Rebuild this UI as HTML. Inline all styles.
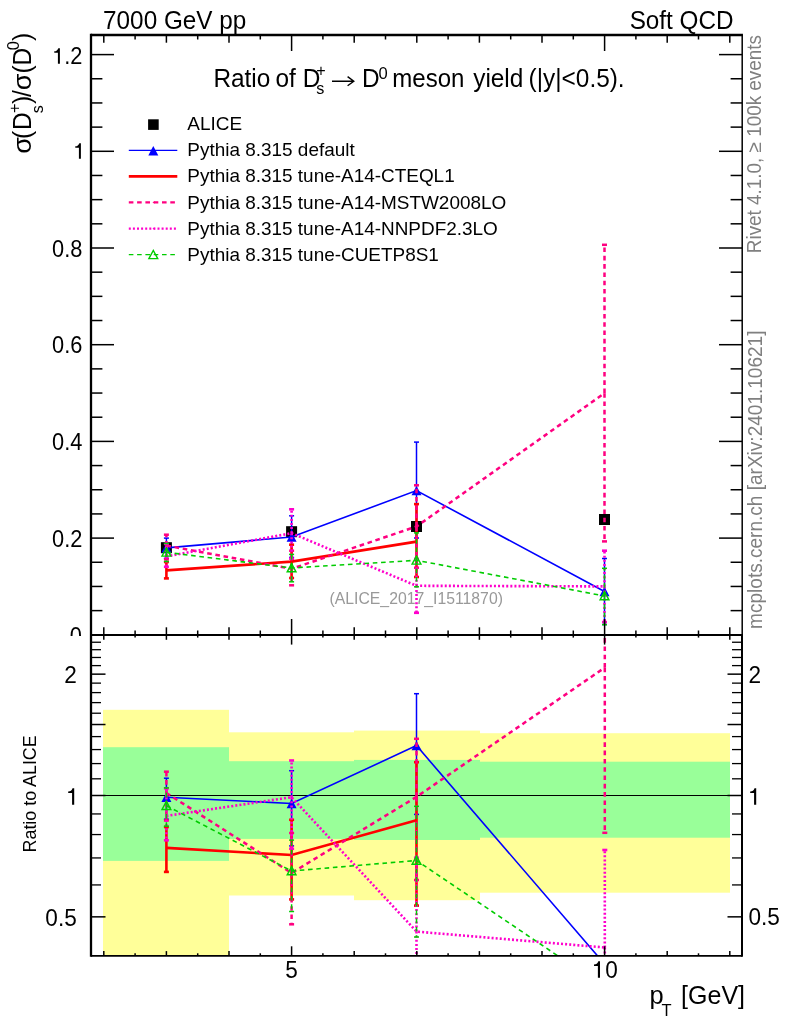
<!DOCTYPE html>
<html><head><meta charset="utf-8"><title>plot</title>
<style>
html,body{margin:0;padding:0;background:#fff;}
body{width:786px;height:1024px;overflow:hidden;position:relative;font-family:"Liberation Sans",sans-serif;}
</style></head><body>
<svg width="786" height="1024" viewBox="0 0 786 1024" style="display:block;position:absolute;left:0;top:0;will-change:transform" font-family="'Liberation Sans', sans-serif">
<defs>
<clipPath id="cm"><rect x="91.0" y="35.0" width="651.0" height="600.0"/></clipPath>
<clipPath id="cr"><rect x="91.0" y="635.0" width="651.0" height="320.9"/></clipPath>
<clipPath id="c0"><rect x="0" y="0" width="91.0" height="635.9"/></clipPath>
</defs>
<rect x="0" y="0" width="786" height="1024" fill="#ffffff"/>
<rect x="103.0" y="709.8" width="126.00" height="245.70" fill="#ffff99"/>
<rect x="229.0" y="732.3" width="125.00" height="163.20" fill="#ffff99"/>
<rect x="354.0" y="730.6" width="126.00" height="169.60" fill="#ffff99"/>
<rect x="480.0" y="733.2" width="250.00" height="159.50" fill="#ffff99"/>
<rect x="103.0" y="747.2" width="126.00" height="113.70" fill="#99ff99"/>
<rect x="229.0" y="761.2" width="125.00" height="77.70" fill="#99ff99"/>
<rect x="354.0" y="759.9" width="126.00" height="80.10" fill="#99ff99"/>
<rect x="480.0" y="761.7" width="250.00" height="76.00" fill="#99ff99"/>
<text transform="translate(416.2,604.3) scale(1,1.045)" font-size="15.8" text-anchor="middle" fill="#999999">(ALICE_2017_I1511870)</text>
<g clip-path="url(#cm)">
<rect x="160.90" y="542.20" width="11.0" height="11.0" fill="#000"/>
<rect x="286.10" y="526.20" width="11.0" height="11.0" fill="#000"/>
<rect x="411.00" y="521.00" width="11.0" height="11.0" fill="#000"/>
<rect x="599.00" y="514.00" width="11.0" height="11.0" fill="#000"/>
<polyline points="166.40,547.90 291.60,537.00 416.50,490.60 604.50,591.50" fill="none" stroke="#0000ff" stroke-width="1.6" stroke-linejoin="miter"/>
<g stroke="#0000ff" stroke-width="1.5" fill="none"><line x1="166.40" y1="538.10" x2="166.40" y2="558.30"/><line x1="163.90" y1="538.10" x2="168.90" y2="538.10"/><line x1="163.90" y1="558.30" x2="168.90" y2="558.30"/></g>
<g stroke="#0000ff" stroke-width="1.5" fill="none"><line x1="291.60" y1="515.80" x2="291.60" y2="557.40"/><line x1="289.10" y1="515.80" x2="294.10" y2="515.80"/><line x1="289.10" y1="557.40" x2="294.10" y2="557.40"/></g>
<g stroke="#0000ff" stroke-width="1.5" fill="none"><line x1="416.50" y1="442.10" x2="416.50" y2="538.00"/><line x1="414.00" y1="442.10" x2="419.00" y2="442.10"/><line x1="414.00" y1="538.00" x2="419.00" y2="538.00"/></g>
<g stroke="#0000ff" stroke-width="1.5" fill="none"><line x1="604.50" y1="558.50" x2="604.50" y2="624.50"/><line x1="602.00" y1="558.50" x2="607.00" y2="558.50"/><line x1="602.00" y1="624.50" x2="607.00" y2="624.50"/></g>
<polygon points="161.40,552.60 171.40,552.60 166.40,543.20" fill="#0000ff"/>
<polygon points="286.60,541.70 296.60,541.70 291.60,532.30" fill="#0000ff"/>
<polygon points="411.50,495.30 421.50,495.30 416.50,485.90" fill="#0000ff"/>
<polygon points="599.50,596.20 609.50,596.20 604.50,586.80" fill="#0000ff"/>
<polyline points="166.40,570.40 291.60,561.60 416.50,541.60" fill="none" stroke="#ff0000" stroke-width="2.6" stroke-linejoin="miter"/>
<g stroke="#ff0000" stroke-width="2.6" fill="none"><line x1="166.40" y1="562.00" x2="166.40" y2="578.40"/><line x1="163.90" y1="562.00" x2="168.90" y2="562.00"/><line x1="163.90" y1="578.40" x2="168.90" y2="578.40"/></g>
<g stroke="#ff0000" stroke-width="2.6" fill="none"><line x1="291.60" y1="544.70" x2="291.60" y2="578.00"/><line x1="289.10" y1="544.70" x2="294.10" y2="544.70"/><line x1="289.10" y1="578.00" x2="294.10" y2="578.00"/></g>
<g stroke="#ff0000" stroke-width="2.6" fill="none"><line x1="416.50" y1="504.10" x2="416.50" y2="577.00"/><line x1="414.00" y1="504.10" x2="419.00" y2="504.10"/><line x1="414.00" y1="577.00" x2="419.00" y2="577.00"/></g>
<polyline points="166.40,545.60 291.60,568.80 416.50,526.50 604.50,393.20" fill="none" stroke="#ff0080" stroke-width="2.5" stroke-linejoin="miter" stroke-dasharray="4.6 3.7"/>
<g stroke="#ff0080" stroke-width="2.5" fill="none"><line x1="166.40" y1="545.60" x2="166.40" y2="534.70" stroke-dasharray="4.6 3.7"/><line x1="166.40" y1="545.60" x2="166.40" y2="559.30" stroke-dasharray="4.6 3.7"/><line x1="163.90" y1="534.70" x2="168.90" y2="534.70"/><line x1="163.90" y1="559.30" x2="168.90" y2="559.30"/></g>
<g stroke="#ff0080" stroke-width="2.5" fill="none"><line x1="291.60" y1="568.80" x2="291.60" y2="550.70" stroke-dasharray="4.6 3.7"/><line x1="291.60" y1="568.80" x2="291.60" y2="585.30" stroke-dasharray="4.6 3.7"/><line x1="289.10" y1="550.70" x2="294.10" y2="550.70"/><line x1="289.10" y1="585.30" x2="294.10" y2="585.30"/></g>
<g stroke="#ff0080" stroke-width="2.5" fill="none"><line x1="416.50" y1="526.50" x2="416.50" y2="485.30" stroke-dasharray="4.6 3.7"/><line x1="416.50" y1="526.50" x2="416.50" y2="567.70" stroke-dasharray="4.6 3.7"/><line x1="414.00" y1="485.30" x2="419.00" y2="485.30"/><line x1="414.00" y1="567.70" x2="419.00" y2="567.70"/></g>
<g stroke="#ff0080" stroke-width="2.5" fill="none"><line x1="604.50" y1="393.20" x2="604.50" y2="244.80" stroke-dasharray="4.6 3.7"/><line x1="604.50" y1="393.20" x2="604.50" y2="541.40" stroke-dasharray="4.6 3.7"/><line x1="602.00" y1="244.80" x2="607.00" y2="244.80"/><line x1="602.00" y1="541.40" x2="607.00" y2="541.40"/></g>
<polyline points="166.40,556.40 291.60,533.20 416.50,585.80 604.50,586.40" fill="none" stroke="#ff00cc" stroke-width="2.6" stroke-linejoin="miter" stroke-dasharray="2.0 2.1"/>
<g stroke="#ff00cc" stroke-width="2.6" fill="none"><line x1="166.40" y1="556.40" x2="166.40" y2="544.00" stroke-dasharray="2.0 2.1"/><line x1="166.40" y1="556.40" x2="166.40" y2="566.80" stroke-dasharray="2.0 2.1"/><line x1="163.90" y1="544.00" x2="168.90" y2="544.00"/><line x1="163.90" y1="566.80" x2="168.90" y2="566.80"/></g>
<g stroke="#ff00cc" stroke-width="2.6" fill="none"><line x1="291.60" y1="533.20" x2="291.60" y2="509.30" stroke-dasharray="2.0 2.1"/><line x1="291.60" y1="533.20" x2="291.60" y2="558.70" stroke-dasharray="2.0 2.1"/><line x1="289.10" y1="509.30" x2="294.10" y2="509.30"/><line x1="289.10" y1="558.70" x2="294.10" y2="558.70"/></g>
<g stroke="#ff00cc" stroke-width="2.6" fill="none"><line x1="416.50" y1="585.80" x2="416.50" y2="558.80" stroke-dasharray="2.0 2.1"/><line x1="416.50" y1="585.80" x2="416.50" y2="612.80" stroke-dasharray="2.0 2.1"/><line x1="414.00" y1="558.80" x2="419.00" y2="558.80"/><line x1="414.00" y1="612.80" x2="419.00" y2="612.80"/></g>
<g stroke="#ff00cc" stroke-width="2.6" fill="none"><line x1="604.50" y1="586.40" x2="604.50" y2="550.70" stroke-dasharray="2.0 2.1"/><line x1="604.50" y1="586.40" x2="604.50" y2="622.10" stroke-dasharray="2.0 2.1"/><line x1="602.00" y1="550.70" x2="607.00" y2="550.70"/><line x1="602.00" y1="622.10" x2="607.00" y2="622.10"/></g>
<polyline points="166.40,552.30 291.60,568.00 416.50,560.30 604.50,596.00" fill="none" stroke="#00cc00" stroke-width="1.6" stroke-linejoin="miter" stroke-dasharray="4.6 3.7"/>
<g stroke="#00cc00" stroke-width="1.5" fill="none"><line x1="166.40" y1="552.30" x2="166.40" y2="543.50" stroke-dasharray="4.6 3.7"/><line x1="166.40" y1="552.30" x2="166.40" y2="561.50" stroke-dasharray="4.6 3.7"/><line x1="163.90" y1="543.50" x2="168.90" y2="543.50"/><line x1="163.90" y1="561.50" x2="168.90" y2="561.50"/></g>
<g stroke="#00cc00" stroke-width="1.5" fill="none"><line x1="291.60" y1="568.00" x2="291.60" y2="554.40" stroke-dasharray="4.6 3.7"/><line x1="291.60" y1="568.00" x2="291.60" y2="581.80" stroke-dasharray="4.6 3.7"/><line x1="289.10" y1="554.40" x2="294.10" y2="554.40"/><line x1="289.10" y1="581.80" x2="294.10" y2="581.80"/></g>
<g stroke="#00cc00" stroke-width="1.5" fill="none"><line x1="416.50" y1="560.30" x2="416.50" y2="532.90" stroke-dasharray="4.6 3.7"/><line x1="416.50" y1="560.30" x2="416.50" y2="586.80" stroke-dasharray="4.6 3.7"/><line x1="414.00" y1="532.90" x2="419.00" y2="532.90"/><line x1="414.00" y1="586.80" x2="419.00" y2="586.80"/></g>
<g stroke="#00cc00" stroke-width="1.5" fill="none"><line x1="604.50" y1="596.00" x2="604.50" y2="568.30" stroke-dasharray="4.6 3.7"/><line x1="604.50" y1="596.00" x2="604.50" y2="624.70" stroke-dasharray="4.6 3.7"/><line x1="602.00" y1="568.30" x2="607.00" y2="568.30"/><line x1="602.00" y1="624.70" x2="607.00" y2="624.70"/></g>
<polygon points="162.00,556.10 170.80,556.10 166.40,547.90" fill="none" stroke="#00cc00" stroke-width="1.4" stroke-linejoin="miter"/>
<polygon points="287.20,571.80 296.00,571.80 291.60,563.60" fill="none" stroke="#00cc00" stroke-width="1.4" stroke-linejoin="miter"/>
<polygon points="412.10,564.10 420.90,564.10 416.50,555.90" fill="none" stroke="#00cc00" stroke-width="1.4" stroke-linejoin="miter"/>
<polygon points="600.10,599.80 608.90,599.80 604.50,591.60" fill="none" stroke="#00cc00" stroke-width="1.4" stroke-linejoin="miter"/>
</g>
<line x1="91.0" y1="795.5" x2="742.0" y2="795.5" stroke="#000" stroke-width="1.1"/>
<g clip-path="url(#cr)">
<polyline points="166.40,797.30 291.60,803.50 416.50,745.60 604.80,964.30" fill="none" stroke="#0000ff" stroke-width="1.6" stroke-linejoin="miter"/>
<g stroke="#0000ff" stroke-width="1.5" fill="none"><line x1="166.40" y1="778.20" x2="166.40" y2="819.20"/><line x1="163.90" y1="778.20" x2="168.90" y2="778.20"/><line x1="163.90" y1="819.20" x2="168.90" y2="819.20"/></g>
<g stroke="#0000ff" stroke-width="1.5" fill="none"><line x1="291.60" y1="770.70" x2="291.60" y2="845.90"/><line x1="289.10" y1="770.70" x2="294.10" y2="770.70"/><line x1="289.10" y1="845.90" x2="294.10" y2="845.90"/></g>
<g stroke="#0000ff" stroke-width="1.5" fill="none"><line x1="416.50" y1="693.70" x2="416.50" y2="814.40"/><line x1="414.00" y1="693.70" x2="419.00" y2="693.70"/><line x1="414.00" y1="814.40" x2="419.00" y2="814.40"/></g>
<polygon points="161.40,802.00 171.40,802.00 166.40,792.60" fill="#0000ff"/>
<polygon points="286.60,808.20 296.60,808.20 291.60,798.80" fill="#0000ff"/>
<polygon points="411.50,750.30 421.50,750.30 416.50,740.90" fill="#0000ff"/>
<polygon points="599.80,969.00 609.80,969.00 604.80,959.60" fill="#0000ff"/>
<polyline points="166.40,847.90 291.60,855.00 416.50,820.20" fill="none" stroke="#ff0000" stroke-width="2.6" stroke-linejoin="miter"/>
<g stroke="#ff0000" stroke-width="2.6" fill="none"><line x1="166.40" y1="827.00" x2="166.40" y2="871.90"/><line x1="163.90" y1="827.00" x2="168.90" y2="827.00"/><line x1="163.90" y1="871.90" x2="168.90" y2="871.90"/></g>
<g stroke="#ff0000" stroke-width="2.6" fill="none"><line x1="291.60" y1="819.80" x2="291.60" y2="899.40"/><line x1="289.10" y1="819.80" x2="294.10" y2="819.80"/><line x1="289.10" y1="899.40" x2="294.10" y2="899.40"/></g>
<g stroke="#ff0000" stroke-width="2.6" fill="none"><line x1="416.50" y1="762.20" x2="416.50" y2="905.60"/><line x1="414.00" y1="762.20" x2="419.00" y2="762.20"/><line x1="414.00" y1="905.60" x2="419.00" y2="905.60"/></g>
<polyline points="166.40,793.00 291.60,873.00 416.50,796.90 604.80,667.60" fill="none" stroke="#ff0080" stroke-width="2.5" stroke-linejoin="miter" stroke-dasharray="4.6 3.7"/>
<g stroke="#ff0080" stroke-width="2.5" fill="none"><line x1="166.40" y1="793.00" x2="166.40" y2="771.70" stroke-dasharray="4.6 3.7"/><line x1="166.40" y1="793.00" x2="166.40" y2="820.50" stroke-dasharray="4.6 3.7"/><line x1="163.90" y1="771.70" x2="168.90" y2="771.70"/><line x1="163.90" y1="820.50" x2="168.90" y2="820.50"/></g>
<g stroke="#ff0080" stroke-width="2.5" fill="none"><line x1="291.60" y1="873.00" x2="291.60" y2="833.00" stroke-dasharray="4.6 3.7"/><line x1="291.60" y1="873.00" x2="291.60" y2="924.30" stroke-dasharray="4.6 3.7"/><line x1="289.10" y1="833.00" x2="294.10" y2="833.00"/><line x1="289.10" y1="924.30" x2="294.10" y2="924.30"/></g>
<g stroke="#ff0080" stroke-width="2.5" fill="none"><line x1="416.50" y1="796.90" x2="416.50" y2="738.80" stroke-dasharray="4.6 3.7"/><line x1="416.50" y1="796.90" x2="416.50" y2="880.00" stroke-dasharray="4.6 3.7"/><line x1="414.00" y1="738.80" x2="419.00" y2="738.80"/><line x1="414.00" y1="880.00" x2="419.00" y2="880.00"/></g>
<g stroke="#ff0080" stroke-width="2.5" fill="none"><line x1="604.80" y1="667.60" x2="604.80" y2="600.00" stroke-dasharray="4.6 3.7"/><line x1="604.80" y1="667.60" x2="604.80" y2="832.80" stroke-dasharray="4.6 3.7"/><line x1="602.30" y1="600.00" x2="607.30" y2="600.00"/><line x1="602.30" y1="832.80" x2="607.30" y2="832.80"/></g>
<polyline points="166.40,815.90 291.60,797.20 416.50,931.60 604.80,947.50" fill="none" stroke="#ff00cc" stroke-width="2.6" stroke-linejoin="miter" stroke-dasharray="2.0 2.1"/>
<g stroke="#ff00cc" stroke-width="2.6" fill="none"><line x1="166.40" y1="815.90" x2="166.40" y2="788.30" stroke-dasharray="2.0 2.1"/><line x1="166.40" y1="815.90" x2="166.40" y2="840.30" stroke-dasharray="2.0 2.1"/><line x1="163.90" y1="788.30" x2="168.90" y2="788.30"/><line x1="163.90" y1="840.30" x2="168.90" y2="840.30"/></g>
<g stroke="#ff00cc" stroke-width="2.6" fill="none"><line x1="291.60" y1="797.20" x2="291.60" y2="760.50" stroke-dasharray="2.0 2.1"/><line x1="291.60" y1="797.20" x2="291.60" y2="848.80" stroke-dasharray="2.0 2.1"/><line x1="289.10" y1="760.50" x2="294.10" y2="760.50"/><line x1="289.10" y1="848.80" x2="294.10" y2="848.80"/></g>
<g stroke="#ff00cc" stroke-width="2.6" fill="none"><line x1="416.50" y1="931.60" x2="416.50" y2="857.70" stroke-dasharray="2.0 2.1"/><line x1="416.50" y1="931.60" x2="416.50" y2="1000.00" stroke-dasharray="2.0 2.1"/><line x1="414.00" y1="857.70" x2="419.00" y2="857.70"/><line x1="414.00" y1="1000.00" x2="419.00" y2="1000.00"/></g>
<g stroke="#ff00cc" stroke-width="2.6" fill="none"><line x1="604.80" y1="947.50" x2="604.80" y2="850.00" stroke-dasharray="2.0 2.1"/><line x1="604.80" y1="947.50" x2="604.80" y2="1000.00" stroke-dasharray="2.0 2.1"/><line x1="602.30" y1="850.00" x2="607.30" y2="850.00"/><line x1="602.30" y1="1000.00" x2="607.30" y2="1000.00"/></g>
<polyline points="166.40,805.70 291.60,871.00 416.50,860.50 604.80,987.50" fill="none" stroke="#00cc00" stroke-width="1.6" stroke-linejoin="miter" stroke-dasharray="4.6 3.7"/>
<g stroke="#00cc00" stroke-width="1.5" fill="none"><line x1="166.40" y1="805.70" x2="166.40" y2="787.90" stroke-dasharray="4.6 3.7"/><line x1="166.40" y1="805.70" x2="166.40" y2="826.20" stroke-dasharray="4.6 3.7"/><line x1="163.90" y1="787.90" x2="168.90" y2="787.90"/><line x1="163.90" y1="826.20" x2="168.90" y2="826.20"/></g>
<g stroke="#00cc00" stroke-width="1.5" fill="none"><line x1="291.60" y1="871.00" x2="291.60" y2="840.10" stroke-dasharray="4.6 3.7"/><line x1="291.60" y1="871.00" x2="291.60" y2="911.50" stroke-dasharray="4.6 3.7"/><line x1="289.10" y1="840.10" x2="294.10" y2="840.10"/><line x1="289.10" y1="911.50" x2="294.10" y2="911.50"/></g>
<g stroke="#00cc00" stroke-width="1.5" fill="none"><line x1="416.50" y1="860.50" x2="416.50" y2="806.30" stroke-dasharray="4.6 3.7"/><line x1="416.50" y1="860.50" x2="416.50" y2="937.00" stroke-dasharray="4.6 3.7"/><line x1="414.00" y1="806.30" x2="419.00" y2="806.30"/><line x1="414.00" y1="937.00" x2="419.00" y2="937.00"/></g>
<polygon points="162.00,809.50 170.80,809.50 166.40,801.30" fill="none" stroke="#00cc00" stroke-width="1.4" stroke-linejoin="miter"/>
<polygon points="287.20,874.80 296.00,874.80 291.60,866.60" fill="none" stroke="#00cc00" stroke-width="1.4" stroke-linejoin="miter"/>
<polygon points="412.10,864.30 420.90,864.30 416.50,856.10" fill="none" stroke="#00cc00" stroke-width="1.4" stroke-linejoin="miter"/>
<polygon points="600.40,991.30 609.20,991.30 604.80,983.10" fill="none" stroke="#00cc00" stroke-width="1.4" stroke-linejoin="miter"/>
</g>
<g stroke="#000" fill="none">
<line x1="91.0" y1="33.85" x2="91.0" y2="956.85" stroke-width="2.3"/>
<line x1="91.0" y1="35.0" x2="742.95" y2="35.0" stroke-width="2.3"/>
<line x1="742.2" y1="35.0" x2="742.2" y2="635.0" stroke-width="1.5"/>
<line x1="742.0" y1="634.1" x2="742.0" y2="956.85" stroke-width="2.0"/>
<line x1="91.0" y1="635.0" x2="742.0" y2="635.0" stroke-width="1.9"/>
<line x1="91.0" y1="955.9" x2="742.0" y2="955.9" stroke-width="1.9"/>
<line x1="103.80" y1="35.0" x2="103.80" y2="42.7" stroke-width="1.5"/>
<line x1="103.80" y1="627.3" x2="103.80" y2="639.8" stroke-width="1.5"/>
<line x1="103.80" y1="951.1" x2="103.80" y2="955.9" stroke-width="1.5"/>
<line x1="135.10" y1="35.0" x2="135.10" y2="39.5" stroke-width="1.5"/>
<line x1="135.10" y1="630.5" x2="135.10" y2="637.6" stroke-width="1.5"/>
<line x1="135.10" y1="953.3" x2="135.10" y2="955.9" stroke-width="1.5"/>
<line x1="166.40" y1="35.0" x2="166.40" y2="42.7" stroke-width="1.5"/>
<line x1="166.40" y1="627.3" x2="166.40" y2="639.8" stroke-width="1.5"/>
<line x1="166.40" y1="951.1" x2="166.40" y2="955.9" stroke-width="1.5"/>
<line x1="197.70" y1="35.0" x2="197.70" y2="39.5" stroke-width="1.5"/>
<line x1="197.70" y1="630.5" x2="197.70" y2="637.6" stroke-width="1.5"/>
<line x1="197.70" y1="953.3" x2="197.70" y2="955.9" stroke-width="1.5"/>
<line x1="229.00" y1="35.0" x2="229.00" y2="42.7" stroke-width="1.5"/>
<line x1="229.00" y1="627.3" x2="229.00" y2="639.8" stroke-width="1.5"/>
<line x1="229.00" y1="951.1" x2="229.00" y2="955.9" stroke-width="1.5"/>
<line x1="260.30" y1="35.0" x2="260.30" y2="39.5" stroke-width="1.5"/>
<line x1="260.30" y1="630.5" x2="260.30" y2="637.6" stroke-width="1.5"/>
<line x1="260.30" y1="953.3" x2="260.30" y2="955.9" stroke-width="1.5"/>
<line x1="291.60" y1="35.0" x2="291.60" y2="51.0" stroke-width="1.5"/>
<line x1="291.60" y1="619.0" x2="291.60" y2="644.6" stroke-width="1.5"/>
<line x1="291.60" y1="946.3" x2="291.60" y2="955.9" stroke-width="1.5"/>
<line x1="322.90" y1="35.0" x2="322.90" y2="39.5" stroke-width="1.5"/>
<line x1="322.90" y1="630.5" x2="322.90" y2="637.6" stroke-width="1.5"/>
<line x1="322.90" y1="953.3" x2="322.90" y2="955.9" stroke-width="1.5"/>
<line x1="354.20" y1="35.0" x2="354.20" y2="42.7" stroke-width="1.5"/>
<line x1="354.20" y1="627.3" x2="354.20" y2="639.8" stroke-width="1.5"/>
<line x1="354.20" y1="951.1" x2="354.20" y2="955.9" stroke-width="1.5"/>
<line x1="385.50" y1="35.0" x2="385.50" y2="39.5" stroke-width="1.5"/>
<line x1="385.50" y1="630.5" x2="385.50" y2="637.6" stroke-width="1.5"/>
<line x1="385.50" y1="953.3" x2="385.50" y2="955.9" stroke-width="1.5"/>
<line x1="416.80" y1="35.0" x2="416.80" y2="42.7" stroke-width="1.5"/>
<line x1="416.80" y1="627.3" x2="416.80" y2="639.8" stroke-width="1.5"/>
<line x1="416.80" y1="951.1" x2="416.80" y2="955.9" stroke-width="1.5"/>
<line x1="448.10" y1="35.0" x2="448.10" y2="39.5" stroke-width="1.5"/>
<line x1="448.10" y1="630.5" x2="448.10" y2="637.6" stroke-width="1.5"/>
<line x1="448.10" y1="953.3" x2="448.10" y2="955.9" stroke-width="1.5"/>
<line x1="479.40" y1="35.0" x2="479.40" y2="42.7" stroke-width="1.5"/>
<line x1="479.40" y1="627.3" x2="479.40" y2="639.8" stroke-width="1.5"/>
<line x1="479.40" y1="951.1" x2="479.40" y2="955.9" stroke-width="1.5"/>
<line x1="510.70" y1="35.0" x2="510.70" y2="39.5" stroke-width="1.5"/>
<line x1="510.70" y1="630.5" x2="510.70" y2="637.6" stroke-width="1.5"/>
<line x1="510.70" y1="953.3" x2="510.70" y2="955.9" stroke-width="1.5"/>
<line x1="542.00" y1="35.0" x2="542.00" y2="42.7" stroke-width="1.5"/>
<line x1="542.00" y1="627.3" x2="542.00" y2="639.8" stroke-width="1.5"/>
<line x1="542.00" y1="951.1" x2="542.00" y2="955.9" stroke-width="1.5"/>
<line x1="573.30" y1="35.0" x2="573.30" y2="39.5" stroke-width="1.5"/>
<line x1="573.30" y1="630.5" x2="573.30" y2="637.6" stroke-width="1.5"/>
<line x1="573.30" y1="953.3" x2="573.30" y2="955.9" stroke-width="1.5"/>
<line x1="604.60" y1="35.0" x2="604.60" y2="51.0" stroke-width="1.5"/>
<line x1="604.60" y1="619.0" x2="604.60" y2="644.6" stroke-width="1.5"/>
<line x1="604.60" y1="946.3" x2="604.60" y2="955.9" stroke-width="1.5"/>
<line x1="635.90" y1="35.0" x2="635.90" y2="39.5" stroke-width="1.5"/>
<line x1="635.90" y1="630.5" x2="635.90" y2="637.6" stroke-width="1.5"/>
<line x1="635.90" y1="953.3" x2="635.90" y2="955.9" stroke-width="1.5"/>
<line x1="667.20" y1="35.0" x2="667.20" y2="42.7" stroke-width="1.5"/>
<line x1="667.20" y1="627.3" x2="667.20" y2="639.8" stroke-width="1.5"/>
<line x1="667.20" y1="951.1" x2="667.20" y2="955.9" stroke-width="1.5"/>
<line x1="698.50" y1="35.0" x2="698.50" y2="39.5" stroke-width="1.5"/>
<line x1="698.50" y1="630.5" x2="698.50" y2="637.6" stroke-width="1.5"/>
<line x1="698.50" y1="953.3" x2="698.50" y2="955.9" stroke-width="1.5"/>
<line x1="729.80" y1="35.0" x2="729.80" y2="42.7" stroke-width="1.5"/>
<line x1="729.80" y1="627.3" x2="729.80" y2="639.8" stroke-width="1.5"/>
<line x1="729.80" y1="951.1" x2="729.80" y2="955.9" stroke-width="1.5"/>
<line x1="91.0" y1="610.62" x2="102.4" y2="610.62" stroke-width="1.5"/>
<line x1="730.6" y1="610.62" x2="742.0" y2="610.62" stroke-width="1.5"/>
<line x1="91.0" y1="586.45" x2="102.4" y2="586.45" stroke-width="1.5"/>
<line x1="730.6" y1="586.45" x2="742.0" y2="586.45" stroke-width="1.5"/>
<line x1="91.0" y1="562.27" x2="102.4" y2="562.27" stroke-width="1.5"/>
<line x1="730.6" y1="562.27" x2="742.0" y2="562.27" stroke-width="1.5"/>
<line x1="91.0" y1="538.10" x2="114.0" y2="538.10" stroke-width="1.5"/>
<line x1="719.0" y1="538.10" x2="742.0" y2="538.10" stroke-width="1.5"/>
<line x1="91.0" y1="513.92" x2="102.4" y2="513.92" stroke-width="1.5"/>
<line x1="730.6" y1="513.92" x2="742.0" y2="513.92" stroke-width="1.5"/>
<line x1="91.0" y1="489.75" x2="102.4" y2="489.75" stroke-width="1.5"/>
<line x1="730.6" y1="489.75" x2="742.0" y2="489.75" stroke-width="1.5"/>
<line x1="91.0" y1="465.57" x2="102.4" y2="465.57" stroke-width="1.5"/>
<line x1="730.6" y1="465.57" x2="742.0" y2="465.57" stroke-width="1.5"/>
<line x1="91.0" y1="441.40" x2="114.0" y2="441.40" stroke-width="1.5"/>
<line x1="719.0" y1="441.40" x2="742.0" y2="441.40" stroke-width="1.5"/>
<line x1="91.0" y1="417.22" x2="102.4" y2="417.22" stroke-width="1.5"/>
<line x1="730.6" y1="417.22" x2="742.0" y2="417.22" stroke-width="1.5"/>
<line x1="91.0" y1="393.05" x2="102.4" y2="393.05" stroke-width="1.5"/>
<line x1="730.6" y1="393.05" x2="742.0" y2="393.05" stroke-width="1.5"/>
<line x1="91.0" y1="368.87" x2="102.4" y2="368.87" stroke-width="1.5"/>
<line x1="730.6" y1="368.87" x2="742.0" y2="368.87" stroke-width="1.5"/>
<line x1="91.0" y1="344.70" x2="114.0" y2="344.70" stroke-width="1.5"/>
<line x1="719.0" y1="344.70" x2="742.0" y2="344.70" stroke-width="1.5"/>
<line x1="91.0" y1="320.52" x2="102.4" y2="320.52" stroke-width="1.5"/>
<line x1="730.6" y1="320.52" x2="742.0" y2="320.52" stroke-width="1.5"/>
<line x1="91.0" y1="296.35" x2="102.4" y2="296.35" stroke-width="1.5"/>
<line x1="730.6" y1="296.35" x2="742.0" y2="296.35" stroke-width="1.5"/>
<line x1="91.0" y1="272.17" x2="102.4" y2="272.17" stroke-width="1.5"/>
<line x1="730.6" y1="272.17" x2="742.0" y2="272.17" stroke-width="1.5"/>
<line x1="91.0" y1="248.00" x2="114.0" y2="248.00" stroke-width="1.5"/>
<line x1="719.0" y1="248.00" x2="742.0" y2="248.00" stroke-width="1.5"/>
<line x1="91.0" y1="223.82" x2="102.4" y2="223.82" stroke-width="1.5"/>
<line x1="730.6" y1="223.82" x2="742.0" y2="223.82" stroke-width="1.5"/>
<line x1="91.0" y1="199.65" x2="102.4" y2="199.65" stroke-width="1.5"/>
<line x1="730.6" y1="199.65" x2="742.0" y2="199.65" stroke-width="1.5"/>
<line x1="91.0" y1="175.47" x2="102.4" y2="175.47" stroke-width="1.5"/>
<line x1="730.6" y1="175.47" x2="742.0" y2="175.47" stroke-width="1.5"/>
<line x1="91.0" y1="151.30" x2="114.0" y2="151.30" stroke-width="1.5"/>
<line x1="719.0" y1="151.30" x2="742.0" y2="151.30" stroke-width="1.5"/>
<line x1="91.0" y1="127.12" x2="102.4" y2="127.12" stroke-width="1.5"/>
<line x1="730.6" y1="127.12" x2="742.0" y2="127.12" stroke-width="1.5"/>
<line x1="91.0" y1="102.95" x2="102.4" y2="102.95" stroke-width="1.5"/>
<line x1="730.6" y1="102.95" x2="742.0" y2="102.95" stroke-width="1.5"/>
<line x1="91.0" y1="78.77" x2="102.4" y2="78.77" stroke-width="1.5"/>
<line x1="730.6" y1="78.77" x2="742.0" y2="78.77" stroke-width="1.5"/>
<line x1="91.0" y1="54.60" x2="114.0" y2="54.60" stroke-width="1.5"/>
<line x1="719.0" y1="54.60" x2="742.0" y2="54.60" stroke-width="1.5"/>
<line x1="91.0" y1="916.85" x2="105.5" y2="916.85" stroke-width="1.5"/>
<line x1="727.5" y1="916.85" x2="742.0" y2="916.85" stroke-width="1.5"/>
<line x1="91.0" y1="884.93" x2="101.0" y2="884.93" stroke-width="1.3"/>
<line x1="732.0" y1="884.93" x2="742.0" y2="884.93" stroke-width="1.3"/>
<line x1="91.0" y1="857.94" x2="101.0" y2="857.94" stroke-width="1.3"/>
<line x1="732.0" y1="857.94" x2="742.0" y2="857.94" stroke-width="1.3"/>
<line x1="91.0" y1="834.56" x2="101.0" y2="834.56" stroke-width="1.3"/>
<line x1="732.0" y1="834.56" x2="742.0" y2="834.56" stroke-width="1.3"/>
<line x1="91.0" y1="813.94" x2="101.0" y2="813.94" stroke-width="1.3"/>
<line x1="732.0" y1="813.94" x2="742.0" y2="813.94" stroke-width="1.3"/>
<line x1="91.0" y1="795.50" x2="105.5" y2="795.50" stroke-width="1.5"/>
<line x1="727.5" y1="795.50" x2="742.0" y2="795.50" stroke-width="1.5"/>
<line x1="91.0" y1="778.81" x2="101.0" y2="778.81" stroke-width="1.3"/>
<line x1="732.0" y1="778.81" x2="742.0" y2="778.81" stroke-width="1.3"/>
<line x1="91.0" y1="763.58" x2="101.0" y2="763.58" stroke-width="1.3"/>
<line x1="732.0" y1="763.58" x2="742.0" y2="763.58" stroke-width="1.3"/>
<line x1="91.0" y1="749.57" x2="101.0" y2="749.57" stroke-width="1.3"/>
<line x1="732.0" y1="749.57" x2="742.0" y2="749.57" stroke-width="1.3"/>
<line x1="91.0" y1="736.60" x2="101.0" y2="736.60" stroke-width="1.3"/>
<line x1="732.0" y1="736.60" x2="742.0" y2="736.60" stroke-width="1.3"/>
<line x1="91.0" y1="724.52" x2="105.5" y2="724.52" stroke-width="1.5"/>
<line x1="727.5" y1="724.52" x2="742.0" y2="724.52" stroke-width="1.5"/>
<line x1="91.0" y1="713.22" x2="101.0" y2="713.22" stroke-width="1.3"/>
<line x1="732.0" y1="713.22" x2="742.0" y2="713.22" stroke-width="1.3"/>
<line x1="91.0" y1="702.61" x2="101.0" y2="702.61" stroke-width="1.3"/>
<line x1="732.0" y1="702.61" x2="742.0" y2="702.61" stroke-width="1.3"/>
<line x1="91.0" y1="692.60" x2="101.0" y2="692.60" stroke-width="1.3"/>
<line x1="732.0" y1="692.60" x2="742.0" y2="692.60" stroke-width="1.3"/>
<line x1="91.0" y1="683.13" x2="101.0" y2="683.13" stroke-width="1.3"/>
<line x1="732.0" y1="683.13" x2="742.0" y2="683.13" stroke-width="1.3"/>
<line x1="91.0" y1="674.15" x2="105.5" y2="674.15" stroke-width="1.5"/>
<line x1="727.5" y1="674.15" x2="742.0" y2="674.15" stroke-width="1.5"/>
<line x1="91.0" y1="665.61" x2="101.0" y2="665.61" stroke-width="1.3"/>
<line x1="732.0" y1="665.61" x2="742.0" y2="665.61" stroke-width="1.3"/>
<line x1="91.0" y1="657.47" x2="101.0" y2="657.47" stroke-width="1.3"/>
<line x1="732.0" y1="657.47" x2="742.0" y2="657.47" stroke-width="1.3"/>
<line x1="91.0" y1="649.69" x2="101.0" y2="649.69" stroke-width="1.3"/>
<line x1="732.0" y1="649.69" x2="742.0" y2="649.69" stroke-width="1.3"/>
<line x1="91.0" y1="642.24" x2="101.0" y2="642.24" stroke-width="1.3"/>
<line x1="732.0" y1="642.24" x2="742.0" y2="642.24" stroke-width="1.3"/>
</g>
<text transform="translate(103.1,29.3) scale(1,1.045)" font-size="24.3" text-anchor="start" fill="#000">7000 GeV pp</text>
<text transform="translate(733.6,29.3) scale(1,1.045)" font-size="24.3" text-anchor="end" fill="#000">Soft QCD</text>
<text transform="translate(213.4,86.6) scale(1,1.045)" font-size="24.4" text-anchor="start" fill="#000">Ratio</text>
<text transform="translate(275.4,86.6) scale(1,1.045)" font-size="24.4" text-anchor="start" fill="#000">of</text>
<text transform="translate(302.7,86.6) scale(1,1.045)" font-size="24.4" text-anchor="start" fill="#000">D</text>
<text transform="translate(316.2,75.8) scale(1,1.045)" font-size="16.2" text-anchor="start" fill="#000">+</text>
<text transform="translate(316.3,94.2) scale(1,1.045)" font-size="16.2" text-anchor="start" fill="#000">s</text>
<path d="M332 81.2 H353.6 M347.6 76.6 L353.8 81.2 L347.6 85.8" fill="none" stroke="#000" stroke-width="1.4"/>
<text transform="translate(361.9,86.6) scale(1,1.045)" font-size="24.4" text-anchor="start" fill="#000">D</text>
<text transform="translate(378.4,78.6) scale(1,1.045)" font-size="16.6" text-anchor="start" fill="#000">0</text>
<text transform="translate(392.3,86.6) scale(1,1.045)" font-size="24.05" text-anchor="start" fill="#000">meson</text>
<text transform="translate(473.2,86.6) scale(1,1.045)" font-size="24.4" text-anchor="start" fill="#000">yield</text>
<text transform="translate(528.6,86.6) scale(1,1.045)" font-size="24.4" text-anchor="start" fill="#000">(|y|&lt;0.5).</text>
<rect x="148.10" y="119.30" width="10.6" height="10.6" fill="#000"/>
<line x1="128.8" y1="150.4" x2="177.3" y2="150.4" stroke="#0000ff" stroke-width="1.4"/>
<polygon points="148.30,155.40 158.30,155.40 153.30,146.00" fill="#0000ff"/>
<line x1="128.8" y1="176.4" x2="177.3" y2="176.4" stroke="#ff0000" stroke-width="2.6"/>
<line x1="128.8" y1="202.4" x2="177.3" y2="202.4" stroke="#ff0080" stroke-width="2.2" stroke-dasharray="4.6 3.7"/>
<polygon points="152.4,202.4 154.8,201.3 154.8,203.5" fill="#ff0080"/>
<line x1="128.8" y1="228.6" x2="177.3" y2="228.6" stroke="#ff00cc" stroke-width="2.3" stroke-dasharray="2.0 2.1"/>
<polygon points="152.4,228.6 154.8,227.5 154.8,229.7" fill="#ff00cc"/>
<line x1="128.8" y1="254.6" x2="177.3" y2="254.6" stroke="#00cc00" stroke-width="1.4" stroke-dasharray="4.6 3.7"/>
<polygon points="148.90,258.60 157.70,258.60 153.30,250.40" fill="none" stroke="#00cc00" stroke-width="1.4" stroke-linejoin="miter"/>
<text transform="translate(187.3,130.2) scale(1,1.0)" font-size="18.95" text-anchor="start" fill="#000">ALICE</text>
<text transform="translate(187.3,156.29999999999998) scale(1,1.0)" font-size="18.95" text-anchor="start" fill="#000">Pythia 8.315 default</text>
<text transform="translate(187.3,182.39999999999998) scale(1,1.0)" font-size="18.95" text-anchor="start" fill="#000">Pythia 8.315 tune-A14-CTEQL1</text>
<text transform="translate(187.3,208.5) scale(1,1.0)" font-size="18.95" text-anchor="start" fill="#000">Pythia 8.315 tune-A14-MSTW2008LO</text>
<text transform="translate(187.3,234.6) scale(1,1.0)" font-size="18.95" text-anchor="start" fill="#000">Pythia 8.315 tune-A14-NNPDF2.3LO</text>
<text transform="translate(187.3,260.7) scale(1,1.0)" font-size="18.95" text-anchor="start" fill="#000">Pythia 8.315 tune-CUETP8S1</text>
<text transform="translate(760.8,253.2) rotate(-90) scale(1,1.045)" font-size="18.9" fill="#808080">Rivet 4.1.0, ≥ 100k events</text>
<text transform="translate(762.3,628.9) rotate(-90) scale(1,1.045)" font-size="19.05" fill="#808080">mcplots.cern.ch [arXiv:2401.10621]</text>
<g clip-path="url(#c0)">
<path transform="translate(52.07,63.70) scale(0.02180,-0.02180)" d="M359 0H268V503H101V566C196 571 256 612 287 709H359Z" fill="#000"/>
<text transform="translate(82.4,63.7) scale(1,1.075)" font-size="21.8" text-anchor="end" fill="#000">.2</text>
<path transform="translate(73.07,158.65) scale(0.02180,-0.02180)" d="M359 0H268V503H101V566C196 571 256 612 287 709H359Z" fill="#000"/>
<text transform="translate(82.4,256.5) scale(1,1.075)" font-size="21.8" text-anchor="end" fill="#000">0.8</text>
<text transform="translate(82.4,353.0) scale(1,1.075)" font-size="21.8" text-anchor="end" fill="#000">0.6</text>
<text transform="translate(82.4,450.0) scale(1,1.075)" font-size="21.8" text-anchor="end" fill="#000">0.4</text>
<text transform="translate(82.4,547.0) scale(1,1.075)" font-size="21.8" text-anchor="end" fill="#000">0.2</text>
<text transform="translate(82.0,643.8) scale(1,1.075)" font-size="21.8" text-anchor="end" fill="#000">0</text>
</g>
<text transform="translate(76.8,683.1) scale(1,1.045)" font-size="22.6" text-anchor="end" fill="#000">2</text>
<text transform="translate(748.4,682.8) scale(1,1.045)" font-size="22.6" text-anchor="start" fill="#000">2</text>
<text transform="translate(76.8,925.7) scale(1,1.045)" font-size="22.6" text-anchor="end" fill="#000">0.5</text>
<text transform="translate(748.4,925.4) scale(1,1.045)" font-size="22.6" text-anchor="start" fill="#000">0.5</text>
<path transform="translate(65.84,804.70) scale(0.02330,-0.02330)" d="M359 0H268V503H101V566C196 571 256 612 287 709H359Z" fill="#000"/>
<path transform="translate(747.84,804.70) scale(0.02330,-0.02330)" d="M359 0H268V503H101V566C196 571 256 612 287 709H359Z" fill="#000"/>
<text transform="translate(291.6,977.8) scale(1,1.045)" font-size="22.6" text-anchor="middle" fill="#000">5</text>
<path transform="translate(591.64,977.80) scale(0.02330,-0.02330)" d="M359 0H268V503H101V566C196 571 256 612 287 709H359Z" fill="#000"/>
<text transform="translate(605.2,977.8) scale(1,1.045)" font-size="22.6" text-anchor="start" fill="#000">0</text>
<text transform="translate(35.7,852.4) rotate(-90) scale(1,1.045)" font-size="17.85" fill="#000">Ratio to ALICE</text>
<g transform="translate(31.2,0) rotate(-90)" font-size="24.6" fill="#000">
<text transform="translate(-153.7,0) scale(1.1,1.045)">σ</text>
<text transform="translate(-139.0,0) scale(1,1.045)">(</text>
<text transform="translate(-130.0,0) scale(1,1.045)">D</text>
<text transform="translate(-112.9,-10.8) scale(1,1.045)" font-size="16.2">+</text>
<text transform="translate(-113.2,11.4) scale(1,1.045)" font-size="16.2">s</text>
<text transform="translate(-104.0,0) scale(1,1.045)">)</text>
<text transform="translate(-97.0,0) scale(1,1.045)">/</text>
<text transform="translate(-90.3,0) scale(1.1,1.045)">σ</text>
<text transform="translate(-73.5,0) scale(1,1.045)">(</text>
<text transform="translate(-65.6,0) scale(1,1.045)">D</text>
<text transform="translate(-50.3,-12.1) scale(1,1.045)" font-size="16.4">0</text>
<text transform="translate(-40.9,0) scale(1,1.045)">)</text>
</g>
<text transform="translate(649.5,1004.0) scale(1,1.045)" font-size="25.5" text-anchor="start" fill="#000">p</text>
<text transform="translate(661.5,1015.5) scale(1,1.045)" font-size="16.5" text-anchor="start" fill="#000">T</text>
<text transform="translate(745.0,1004.0) scale(1,1.045)" font-size="25.0" text-anchor="end" fill="#000">[GeV]</text>
</svg>
</body></html>
